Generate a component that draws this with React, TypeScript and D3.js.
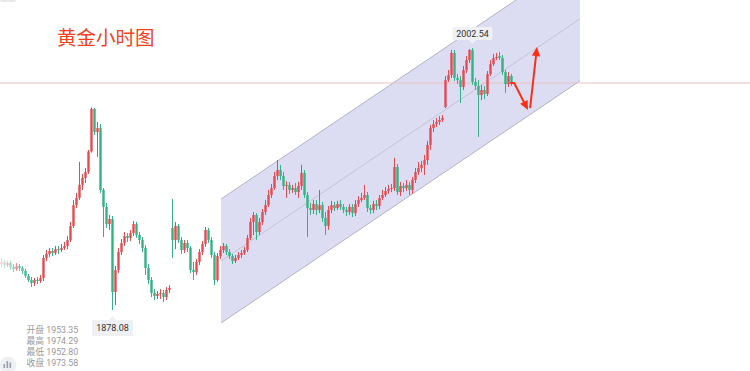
import React, { useEffect } from 'react';
import * as d3 from 'd3';

const opens = [
  1899.9, 1900.9, 1899.4, 1900.4, 1898.5, 1897.5, 1899.0, 1898.0, 1896.6, 1894.2,
  1892.3, 1890.9, 1892.3, 1891.8, 1893.3, 1902.8, 1904.7, 1906.1, 1905.1, 1907.0,
  1906.6, 1907.5, 1908.5, 1911.3, 1918.0, 1927.9, 1931.3, 1937.5, 1940.8, 1943.6,
  1953.35, 1973.6, 1962.6, 1964.5, 1935.1, 1927.0, 1918.9, 1921.3, 1886.6, 1897.1,
  1905.6, 1909.9, 1913.2, 1912.3, 1914.6, 1918.9, 1913.7, 1911.3, 1907.5, 1898.0,
  1892.3, 1886.1, 1884.7, 1885.7, 1886.1, 1884.2, 1887.6, 1917.0, 1911.3, 1918.0,
  1911.3, 1906.6, 1909.9, 1907.5, 1897.1, 1896.1, 1900.9, 1905.6, 1909.4, 1916.1,
  1911.3, 1904.2, 1892.3, 1903.7, 1906.6, 1908.5, 1905.6, 1903.7, 1901.3, 1902.8,
  1904.2, 1905.1, 1906.6, 1912.3, 1919.9, 1923.2, 1915.1, 1919.9, 1924.6, 1927.9,
  1932.7, 1936.0, 1941.7, 1944.6, 1941.7, 1937.0, 1937.5, 1935.1, 1936.0, 1934.1,
  1937.0, 1943.2, 1932.7, 1926.5, 1925.6, 1928.4, 1925.6, 1927.9, 1921.8, 1918.0,
  1925.6, 1927.9, 1926.5, 1928.4, 1927.0, 1925.6, 1924.6, 1927.0, 1924.1, 1928.4,
  1930.3, 1931.3, 1932.7, 1926.5, 1925.6, 1928.4, 1927.5, 1931.3, 1932.7, 1934.6,
  1935.6, 1936.0, 1946.0, 1934.1, 1937.0, 1936.0, 1937.5, 1935.1, 1939.8, 1943.6,
  1945.5, 1947.0, 1949.3, 1956.5, 1964.5, 1966.4, 1967.4, 1968.3, 1974.5, 1987.3,
  1989.7, 2000.2, 1988.3, 1987.3, 1984.0, 1992.1, 1996.8, 2001.6, 1986.4, 1984.5,
  1980.2, 1982.6, 1980.7, 1990.2, 1994.9, 1997.8, 1998.7, 1997.8, 1991.1, 1985.4,
  1989.2,
];

const highs = [
  1902.8, 1901.8, 1901.3, 1901.3, 1899.9, 1900.4, 1899.9, 1899.0, 1897.5, 1895.2,
  1893.7, 1893.3, 1893.7, 1894.7, 1904.2, 1906.6, 1907.5, 1907.5, 1908.5, 1908.5,
  1909.4, 1910.4, 1913.2, 1919.9, 1930.3, 1933.7, 1948.4, 1942.7, 1945.5, 1954.1,
  1974.29, 1974.0, 1967.4, 1966.4, 1936.0, 1928.9, 1923.2, 1922.7, 1899.0, 1907.5,
  1911.8, 1915.1, 1914.6, 1916.1, 1920.3, 1919.9, 1915.1, 1912.7, 1908.9, 1899.9,
  1893.7, 1888.0, 1887.1, 1888.0, 1887.6, 1889.0, 1889.9, 1930.8, 1919.9, 1918.9,
  1912.7, 1911.3, 1911.3, 1908.5, 1900.9, 1902.3, 1907.0, 1910.8, 1917.5, 1917.0,
  1912.7, 1905.6, 1905.1, 1908.5, 1909.9, 1909.4, 1907.0, 1904.7, 1904.2, 1905.6,
  1906.6, 1908.0, 1913.7, 1921.8, 1924.6, 1924.1, 1921.8, 1926.0, 1930.3, 1935.1,
  1937.9, 1943.6, 1949.3, 1947.0, 1943.6, 1939.3, 1938.9, 1937.5, 1938.4, 1938.9,
  1947.0, 1944.6, 1934.1, 1928.9, 1930.3, 1930.3, 1935.1, 1929.4, 1924.6, 1927.5,
  1929.9, 1929.4, 1929.9, 1930.3, 1928.4, 1927.0, 1928.4, 1928.4, 1930.3, 1932.2,
  1933.7, 1937.5, 1934.1, 1927.9, 1929.9, 1930.3, 1932.7, 1935.1, 1936.5, 1937.5,
  1937.9, 1950.3, 1947.4, 1938.9, 1938.4, 1939.8, 1938.9, 1941.3, 1945.5, 1948.4,
  1948.9, 1951.7, 1958.4, 1966.0, 1968.3, 1969.3, 1970.2, 1970.7, 1989.2, 1992.1,
  2001.6, 2001.6, 1990.2, 1989.2, 1994.0, 1998.7, 2002.0, 2002.54, 1988.3, 1987.3,
  1985.0, 1984.5, 1991.6, 1996.8, 1999.7, 2000.2, 2000.6, 1999.2, 1992.1, 1991.1,
  1990.2,
];

const lows = [
  1898.5, 1898.0, 1898.5, 1897.1, 1896.1, 1896.6, 1896.6, 1895.2, 1893.3, 1891.4,
  1889.0, 1889.5, 1890.4, 1890.9, 1891.8, 1901.3, 1903.2, 1903.7, 1904.2, 1904.7,
  1905.6, 1906.6, 1907.0, 1910.4, 1917.0, 1926.5, 1930.3, 1935.1, 1938.4, 1942.7,
  1952.8, 1961.2, 1950.8, 1933.7, 1912.7, 1917.0, 1916.1, 1878.08, 1880.4, 1895.6,
  1904.2, 1908.5, 1910.4, 1910.8, 1913.2, 1912.3, 1909.4, 1905.6, 1894.7, 1890.4,
  1884.2, 1882.8, 1883.3, 1883.3, 1881.9, 1882.8, 1886.1, 1902.8, 1907.0, 1909.9,
  1904.7, 1905.1, 1905.6, 1895.6, 1892.3, 1894.7, 1899.4, 1904.2, 1908.0, 1909.9,
  1902.8, 1889.9, 1891.4, 1902.3, 1905.1, 1904.2, 1902.3, 1899.9, 1900.4, 1901.8,
  1902.8, 1904.2, 1905.6, 1911.3, 1913.7, 1911.3, 1913.7, 1918.4, 1923.2, 1927.0,
  1931.3, 1935.1, 1939.8, 1939.8, 1935.1, 1931.3, 1933.2, 1933.7, 1932.7, 1931.3,
  1935.1, 1931.3, 1912.7, 1923.2, 1923.7, 1923.2, 1924.1, 1919.9, 1913.7, 1916.1,
  1924.1, 1925.1, 1925.6, 1925.6, 1924.1, 1922.7, 1923.2, 1922.2, 1922.7, 1927.0,
  1929.4, 1930.3, 1924.6, 1923.7, 1924.1, 1925.6, 1926.0, 1930.3, 1931.8, 1933.2,
  1934.1, 1934.6, 1932.7, 1932.2, 1934.1, 1934.6, 1932.7, 1933.2, 1938.4, 1942.2,
  1943.6, 1942.2, 1947.0, 1954.1, 1962.6, 1965.0, 1966.0, 1967.4, 1974.0, 1986.4,
  1988.3, 1986.9, 1985.4, 1976.4, 1982.6, 1990.7, 1995.4, 1985.0, 1982.6, 1960.3,
  1977.8, 1978.3, 1979.7, 1989.2, 1994.0, 1996.8, 1996.8, 1989.7, 1981.2, 1984.0,
  1984.5,
];

const closes = [
  1900.9, 1899.4, 1900.4, 1898.5, 1897.5, 1899.0, 1898.0, 1896.6, 1894.2, 1892.3,
  1890.9, 1892.3, 1891.8, 1893.3, 1902.8, 1904.7, 1906.1, 1905.1, 1907.0, 1906.6,
  1907.5, 1908.5, 1911.3, 1918.0, 1927.9, 1931.3, 1937.5, 1940.8, 1943.6, 1953.4,
  1973.58, 1962.6, 1964.5, 1935.1, 1927.0, 1918.9, 1921.3, 1886.6, 1897.1, 1905.6,
  1909.9, 1913.2, 1912.3, 1914.6, 1918.9, 1913.7, 1911.3, 1907.5, 1898.0, 1892.3,
  1886.1, 1884.7, 1885.7, 1886.1, 1884.2, 1887.6, 1888.5, 1911.3, 1918.0, 1911.3,
  1906.6, 1909.9, 1907.5, 1897.1, 1896.1, 1900.9, 1905.6, 1909.4, 1916.1, 1911.3,
  1904.2, 1892.3, 1903.7, 1906.6, 1908.5, 1905.6, 1903.7, 1901.3, 1902.8, 1904.2,
  1905.1, 1906.6, 1912.3, 1919.9, 1923.2, 1915.1, 1919.9, 1924.6, 1927.9, 1932.7,
  1936.0, 1941.7, 1944.6, 1941.7, 1937.0, 1937.5, 1935.1, 1936.0, 1934.1, 1937.0,
  1943.2, 1932.7, 1926.5, 1925.6, 1928.4, 1925.6, 1927.9, 1921.8, 1918.0, 1925.6,
  1927.9, 1926.5, 1928.4, 1927.0, 1925.6, 1924.6, 1927.0, 1924.1, 1928.4, 1930.3,
  1931.3, 1932.7, 1926.5, 1925.6, 1928.4, 1927.5, 1931.3, 1932.7, 1934.6, 1935.6,
  1936.0, 1946.0, 1934.1, 1937.0, 1936.0, 1937.5, 1935.1, 1939.8, 1943.6, 1945.5,
  1947.0, 1949.3, 1956.5, 1964.5, 1966.4, 1967.4, 1968.3, 1969.3, 1987.3, 1989.7,
  2000.2, 1988.3, 1987.3, 1984.0, 1992.1, 1996.8, 2001.6, 1986.4, 1984.5, 1980.2,
  1982.6, 1980.7, 1990.2, 1994.9, 1997.8, 1998.3, 1997.8, 1991.1, 1985.4, 1989.2,
  1985.9,
];

const title = '黄金小时图';
const infoLabels = ['开盘', '最高', '最低', '收盘'];
const infoValues = ['1953.35', '1974.29', '1952.80', '1973.58'];

// channel anchors (candle index, price)
const channelIdx = [73.2, 192.8];
const channelLow = [1871.9, 1986.9];
const channelWidth = 58.9;

// arrows (candle index, price)
const arrow1Idx = [169.6, 170.9, 175.5];
const arrow1Price = [1985.9, 1985.9, 1973.1];
const arrow2Idx = [176.2, 178.5];
const arrow2Price = [1974.0, 2003.0];

const RED = '#e8494f';
const GREEN = '#33b384';
const ARROW = '#ff2d12';

export default function App() {
  useEffect(() => {
    document.body.style.margin = '0';
  }, []);

  const W = 750;
  const H = 371;
  const n = closes.length;
  const x = d3.scaleLinear().domain([0, n - 1]).range([1.5, 511.5]);
  const y = d3.scaleLinear().domain([1878.08, 2002.54]).range([309.96, 48]);

  const hiIdx = d3.maxIndex(highs);
  const loIdx = d3.minIndex(lows);
  const lastClose = closes[n - 1];

  const chan = [
    [x(channelIdx[0]), y(channelLow[0] + channelWidth)],
    [x(channelIdx[1]), y(channelLow[1] + channelWidth)],
    [x(channelIdx[1]), y(channelLow[1])],
    [x(channelIdx[0]), y(channelLow[0])],
  ];
  const line = d3.line();

  const arrowHead = (pts: number[][]) => {
    const [x1, y1] = pts[pts.length - 2];
    const [x2, y2] = pts[pts.length - 1];
    const a = Math.atan2(y2 - y1, x2 - x1);
    const L = 9;
    const w = 4.2;
    const bx = x2 - L * Math.cos(a);
    const by = y2 - L * Math.sin(a);
    const px = -Math.sin(a) * w;
    const py = Math.cos(a) * w;
    return `M${x2},${y2}L${bx + px},${by + py}L${bx - px},${by - py}Z`;
  };
  const shaft = (pts: number[][]) => {
    const q = pts.map((p) => [...p]);
    const [x1, y1] = q[q.length - 2];
    const [x2, y2] = q[q.length - 1];
    const a = Math.atan2(y2 - y1, x2 - x1);
    q[q.length - 1] = [x2 - 7 * Math.cos(a), y2 - 7 * Math.sin(a)];
    return line(q as [number, number][]) as string;
  };
  const a1 = arrow1Idx.map((v, i) => [x(v), y(arrow1Price[i])]);
  const a2 = arrow2Idx.map((v, i) => [x(v), y(arrow2Price[i])]);

  const hx = x(hiIdx);
  const hy = y(highs[hiIdx]);
  const lx = x(loIdx);
  const ly = y(lows[loIdx]);
  const numFont = 'Roboto, "Noto Sans", sans-serif';
  const cjkFont = '"Noto Sans CJK SC", "Noto Sans", sans-serif';
  const infoFont = 'Roboto, "Noto Sans CJK SC", sans-serif';

  return (
    <svg width={W} height={H} style={{ position: 'absolute', left: 0, top: 0, background: '#fff' }}>
      <rect x={0} y={0} width={W} height={H} fill="#fff" />
      <rect x={0} y={-3} width={16} height={5} rx={2} fill="#e9e9ec" />
      {/* channel */}
      <path d={line(chan as [number, number][]) + 'Z'} fill="#dcdcf3" stroke="none" />
      <line x1={chan[0][0]} y1={chan[0][1]} x2={chan[1][0]} y2={chan[1][1]} stroke="#b3b3c2" strokeWidth={1} />
      <line x1={chan[3][0]} y1={chan[3][1]} x2={chan[2][0]} y2={chan[2][1]} stroke="#b3b3c2" strokeWidth={1} />
      <line
        x1={chan[0][0]}
        y1={(chan[0][1] + chan[3][1]) / 2}
        x2={chan[1][0]}
        y2={(chan[1][1] + chan[2][1]) / 2}
        stroke="#bdbdca"
        strokeWidth={0.8}
      />
      {/* last price line */}
      <line x1={0} x2={W} y1={y(lastClose)} y2={y(lastClose)} stroke="#efc2c2" strokeWidth={1} />
      {/* candles */}
      {closes.map((c, i) => {
        const o = opens[i];
        const up = c >= o;
        const col = up ? RED : GREEN;
        const cx = x(i);
        const top = y(Math.max(o, c));
        const bot = y(Math.min(o, c));
        const op = Math.min(1, 0.25 + i * 0.08);
        return (
          <g key={i} opacity={op}>
            <line x1={cx} x2={cx} y1={y(highs[i])} y2={y(lows[i])} stroke={col} strokeWidth={1} />
            <rect x={cx - 1.2} y={top} width={2.4} height={Math.max(1, bot - top)} fill={col} />
          </g>
        );
      })}
      {/* arrows */}
      <path d={shaft(a1)} fill="none" stroke={ARROW} strokeWidth={2} strokeLinejoin="round" />
      <path d={arrowHead(a1)} fill={ARROW} />
      <path d={shaft(a2)} fill="none" stroke={ARROW} strokeWidth={2} />
      <path d={arrowHead(a2)} fill={ARROW} />
      {/* high label */}
      <g>
        <rect x={hx - 20} y={hy - 21} width={40} height={13} rx={1.5} fill="#eef0f3" />
        <path d={`M${hx - 4},${hy - 8.2}L${hx + 4},${hy - 8.2}L${hx},${hy - 4}Z`} fill="#eef0f3" />
        <text x={hx} y={hy - 11.3} textAnchor="middle" fontSize={9} fill="#333" fontFamily={numFont}>
          {highs[hiIdx].toFixed(2)}
        </text>
      </g>
      {/* low label */}
      <g>
        <path d={`M${lx - 4},${ly + 10.2}L${lx + 4},${ly + 10.2}L${lx},${ly + 6}Z`} fill="#eef0f3" />
        <rect x={lx - 20.5} y={ly + 10} width={41} height={16} rx={1.5} fill="#eef0f3" />
        <text x={lx} y={ly + 21.3} textAnchor="middle" fontSize={9} fill="#333" fontFamily={numFont}>
          {lows[loIdx].toFixed(2)}
        </text>
      </g>
      {/* title */}
      <text x={57} y={45} fontSize={19.5} fill="#f4401e" fontFamily={cjkFont}>
        {title}
      </text>
      {/* info */}
      {infoLabels.map((lab, i) => (
        <text key={lab} x={26.5} y={332.5 + i * 11} fontSize={8.8} fill="#999" fontFamily={infoFont}>
          {`${lab} ${infoValues[i]}`}
        </text>
      ))}
      {/* icon */}
      <circle cx={8} cy={365} r={8.5} fill="#eef0f3" />
      <rect x={3.5} y={364} width={1.6} height={4} fill="#9aa0aa" />
      <rect x={6.5} y={361} width={1.6} height={7} fill="#9aa0aa" />
      <rect x={9.5} y={362.5} width={1.6} height={5.5} fill="#9aa0aa" />
    </svg>
  );
}
